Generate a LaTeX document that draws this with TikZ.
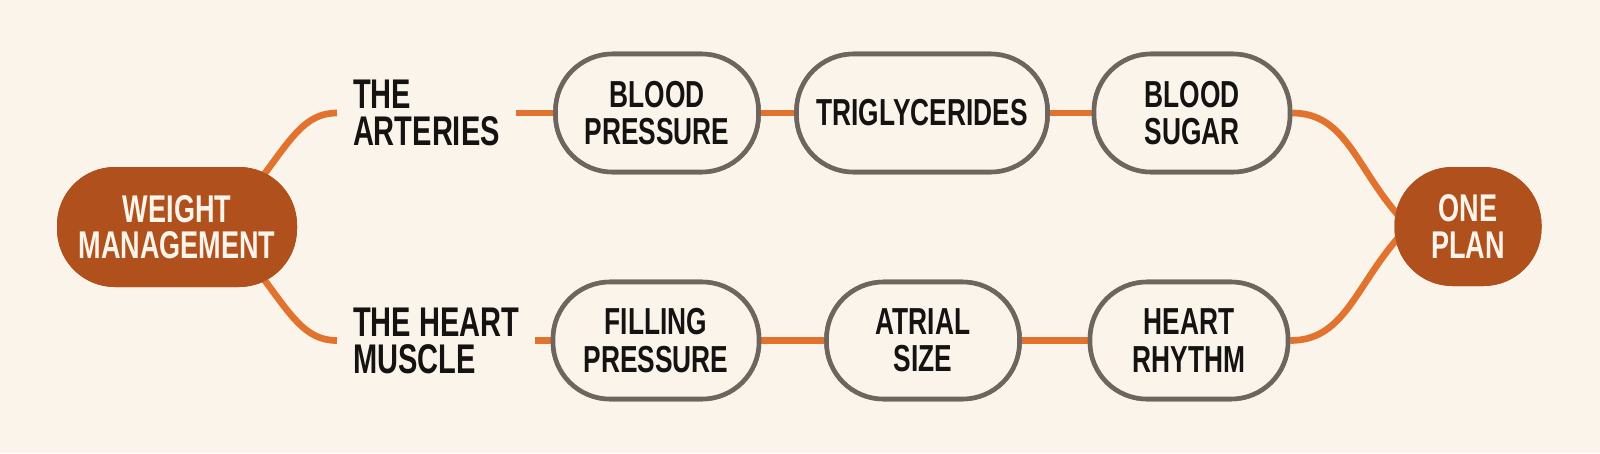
\documentclass[tikz,border=0pt]{standalone}
\usepackage{fontspec}
\setsansfont[FakeStretch=0.7]{Liberation Sans}
\usepackage{tikz}
\usetikzlibrary{positioning,backgrounds}
\usepackage{xcolor}
\definecolor{paper}{HTML}{FAF4EB}
\definecolor{rust}{HTML}{B0501C}
\definecolor{wire}{HTML}{E2732F}
\definecolor{rim}{HTML}{6E655E}
\definecolor{ink}{HTML}{151311}
\tikzset{
	stage/.style={%
		draw=rim, line width=1.3pt, fill=paper,
		rounded corners=0.57cm,
		minimum width=#1,
		minimum height=1.18cm,
		inner sep=0pt, align=center, text=ink,
		font=\sffamily\bfseries\fontsize{10.7}{10.6}\selectfont
	},
	stage/.default=2cm,
	hub/.style={%
		fill=rust, rounded corners=0.58cm,
		minimum width=#1,
		minimum height=1.2cm,
		inner sep=0pt, align=center, text=paper,
		font=\sffamily\bfseries\fontsize{11}{10.3}\selectfont
	},
	hub/.default=2.4cm,
	branch/.style={%
		anchor=west, inner sep=0pt, outer xsep=0.16cm,
		align=left, text=ink,
		font=\sffamily\bfseries\fontsize{11.8}{10.5}\selectfont
	},
	link/.style={draw=wire, line width=1.9pt}
}
\begin{document}
\begin{tikzpicture}
		% page and background
		\useasboundingbox[fill=paper] (0,0) rectangle (16,-4.53);
		
		% start and end
		\node[hub] (weight) at (1.77,-2.27) {WEIGHT\\MANAGEMENT};
		\node[hub=1.47cm, minimum height=1.19cm] (onePlan) at (14.68,-2.265) {ONE\\PLAN};
		
		% the two branch titles
		\node[branch] (arteries) at (3.37,-1.13) {THE\\ARTERIES};
		\node[branch] (heartMuscle) at (3.37,-3.405) {THE HEART\\MUSCLE};
		
		% upper row
		\node[stage=2.03cm] (bloodPressure) at (6.57,-1.13) {BLOOD\\PRESSURE};
		\node[stage=2.51cm] (triglycerides) at (9.22,-1.13) {TRIGLYCERIDES};
		\node[stage=1.96cm] (bloodSugar) at (11.92,-1.13) {BLOOD\\SUGAR};
		
		% lower row
		\node[stage=2.06cm, minimum height=1.17cm] (filling) at (6.56,-3.405) {FILLING\\PRESSURE};
		\node[stage=1.93cm, minimum height=1.17cm] (atrial) at (9.23,-3.405) {ATRIAL\\SIZE};
		\node[stage=1.98cm, minimum height=1.17cm] (heartRhythm) at (11.89,-3.405) {HEART\\RHYTHM};
		
		%links on the left
		\draw[link, shorten <=-8pt] (weight.33) to[out=53,in=180] (arteries.west);
		\draw[link, shorten <=-8pt] (weight.-33) to[out=-53,in=180] (heartMuscle.west);
		
		\draw[link] (arteries.east)--(bloodPressure.west);
		\draw[link] (bloodPressure)--(triglycerides);
		\draw[link] (triglycerides)--(bloodSugar);
		
		\draw[link] (heartMuscle.east)--(filling.west);
		\draw[link] (filling)--(atrial);
		\draw[link] (atrial)--(heartRhythm);
		
		%links on the right
		\draw[link, shorten >=-4pt] (bloodSugar.east) to[out=0,in=133] (onePlan.168);
		\draw[link, shorten >=-4pt] (heartRhythm.east) to[out=0,in=227] (onePlan.192);
		
		% nodes again on top of the lines
		\node[stage=2.03cm] at (bloodPressure) {BLOOD\\PRESSURE};
		\node[stage=2.51cm] at (triglycerides) {TRIGLYCERIDES};
		\node[stage=1.96cm] at (bloodSugar) {BLOOD\\SUGAR};
		\node[stage=2.06cm, minimum height=1.17cm] at (filling) {FILLING\\PRESSURE};
		\node[stage=1.93cm, minimum height=1.17cm] at (atrial) {ATRIAL\\SIZE};
		\node[stage=1.98cm, minimum height=1.17cm] at (heartRhythm) {HEART\\RHYTHM};
		\node[hub] at (weight) {WEIGHT\\MANAGEMENT};
		\node[hub=1.47cm, minimum height=1.19cm] at (onePlan) {ONE\\PLAN};
		
\end{tikzpicture}
\end{document}
